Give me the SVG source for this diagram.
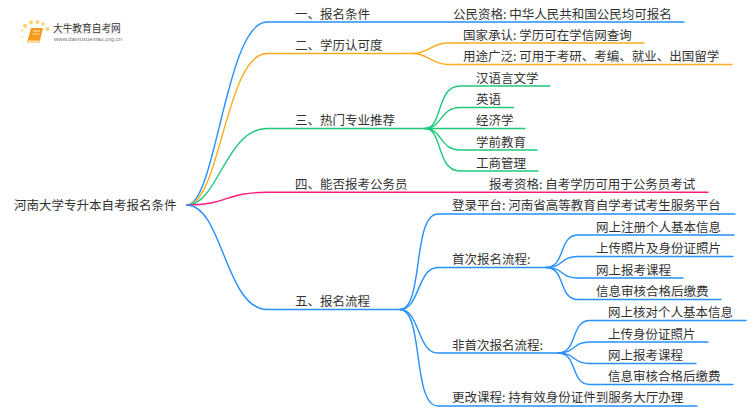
<svg xmlns="http://www.w3.org/2000/svg" width="750" height="410" viewBox="0 0 750 410">
<style>
text{font-family:"Noto Sans CJK SC","Noto Sans",sans-serif;font-size:12.5px;fill:#333}
path.c{fill:none;stroke-width:1.4;stroke-linecap:round}
.b{stroke:#2690fb}.o{stroke:#fdab1e}.g{stroke:#1fc97a}.p{stroke:#fb1c7c}
</style>
<rect width="750" height="410" fill="#fff"/>
<g id="logo">
<g fill="#fbd26e"><circle cx="25" cy="26" r="2"/><circle cx="31" cy="22.500" r="2"/><circle cx="37.500" cy="22" r="2"/><circle cx="43" cy="24" r="1.800"/><circle cx="47.500" cy="29" r="2"/><circle cx="22" cy="30.500" r="1.300" opacity=".7"/><circle cx="22" cy="37" r="1.200" opacity=".5"/><circle cx="23.500" cy="42.500" r="1" opacity=".4"/></g>
<path d="M31 28H43L39.500 42.500H27Z" fill="#f59a1c"/><path d="M27 42.500H39.500V40.500H28Z" fill="#fde0a8"/><path d="M33 31H40M32.500 34H39" stroke="#fff" stroke-width=".8" fill="none"/>
<text x="53" y="31.500" style="font-size:9.700px">大牛教育自考网</text>
<rect x="54" y="33" width="66" height=".6" fill="#ddd"/>
<text x="54" y="41" style="font-size:6px;font-family:'Liberation Sans',sans-serif;fill:#777">www.daniuxuexiao.org.cn</text>
</g>
<g id="connectors">
<path class="c b" d="M187 205C216 205 226 22 267 22H684"/>
<path class="c o" d="M187 205C220 205 226 53.500 267 53.500H413C428 53.500 432 43 448 43H644"/>
<path class="c o" d="M413 53.500C428 53.500 432 64.500 448 64.500H732"/>
<path class="c g" d="M187 205C218 205 226 128.500 267 128.500H425C443 128.500 436 86 460 86H550"/>
<path class="c g" d="M425 128.500C442 128.500 440 107.500 460 107.500H513.500"/>
<path class="c g" d="M425 128.500H525"/>
<path class="c g" d="M425 128.500C442 128.500 440 150 460 150H537"/>
<path class="c g" d="M425 128.500C443 128.500 436 171 460 171H538"/>
<path class="c p" d="M187 205C228 205 225 192.300 267 192.300H708"/>
<path class="c b" d="M187 205C222 205 226 309.500 267 309.500H400C424 309.500 412 214 438 214H735"/>
<path class="c b" d="M400 309.500C420 309.500 417 267.500 438 267.500H546C566 267.500 558 235 578 235H734"/>
<path class="c b" d="M546 267.500C564 267.500 560 256.500 578 256.500H733"/>
<path class="c b" d="M546 267.500C564 267.500 560 278 578 278H683"/>
<path class="c b" d="M546 267.500C566 267.500 558 299.500 578 299.500H721"/>
<path class="c b" d="M400 309.500C420 309.500 417 353 438 353H558C578 353 570 320.500 590 320.500H746"/>
<path class="c b" d="M558 353C576 353 572 342 590 342H708"/>
<path class="c b" d="M558 353C576 353 572 363.500 590 363.500H696"/>
<path class="c b" d="M558 353C578 353 570 384.500 590 384.500H733"/>
<path class="c b" d="M400 309.500C424 309.500 412 406 438 406H697"/>
</g>
<g id="root"><text x="14" y="210">河南大学专升本自考报名条件</text></g>
<g id="n1"><text x="295" y="18.500">一、报名条件</text></g>
<g id="n1-1"><text x="453" y="18.500">公民资格: 中华人民共和国公民均可报名</text></g>
<g id="n2"><text x="295" y="50">二、学历认可度</text></g>
<g id="n2-1"><text x="463" y="39.500">国家承认: 学历可在学信网查询</text></g>
<g id="n2-2"><text x="463" y="61">用途广泛: 可用于考研、考编、就业、出国留学</text></g>
<g id="n3"><text x="295" y="124.500">三、热门专业推荐</text></g>
<g id="n3-1"><text x="476" y="82.500">汉语言文学</text></g>
<g id="n3-2"><text x="476" y="104">英语</text></g>
<g id="n3-3"><text x="476" y="125">经济学</text></g>
<g id="n3-4"><text x="476" y="146.500">学前教育</text></g>
<g id="n3-5"><text x="476" y="167.500">工商管理</text></g>
<g id="n4"><text x="295" y="188.500">四、能否报考公务员</text></g>
<g id="n4-1"><text x="489" y="188.500">报考资格: 自考学历可用于公务员考试</text></g>
<g id="n5"><text x="295" y="306">五、报名流程</text></g>
<g id="n5-1"><text x="452" y="210">登录平台: 河南省高等教育自学考试考生服务平台</text></g>
<g id="n5-2"><text x="452" y="263.500">首次报名流程:</text></g>
<g id="n5-2-1"><text x="596" y="231.500">网上注册个人基本信息</text></g>
<g id="n5-2-2"><text x="596" y="253">上传照片及身份证照片</text></g>
<g id="n5-2-3"><text x="596" y="274.500">网上报考课程</text></g>
<g id="n5-2-4"><text x="596" y="296">信息审核合格后缴费</text></g>
<g id="n5-3"><text x="452" y="349.500">非首次报名流程:</text></g>
<g id="n5-3-1"><text x="608" y="317">网上核对个人基本信息</text></g>
<g id="n5-3-2"><text x="608" y="338.500">上传身份证照片</text></g>
<g id="n5-3-3"><text x="608" y="360">网上报考课程</text></g>
<g id="n5-3-4"><text x="608" y="381">信息审核合格后缴费</text></g>
<g id="n5-4"><text x="452" y="402">更改课程: 持有效身份证件到服务大厅办理</text></g>
</svg>
